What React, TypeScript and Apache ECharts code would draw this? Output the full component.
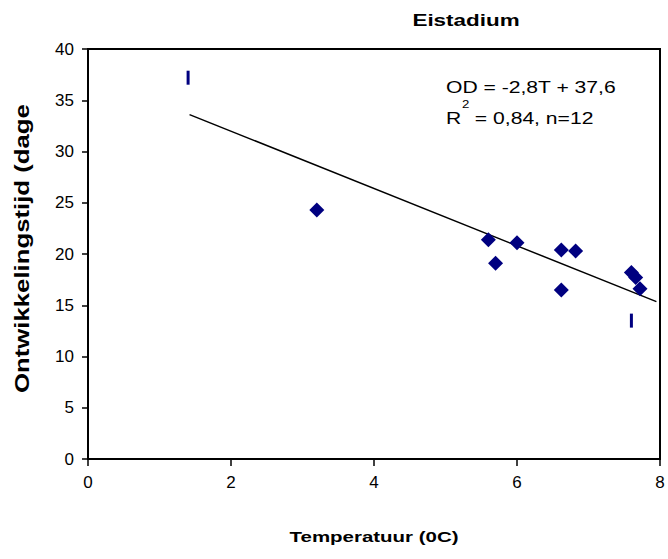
import React, { useEffect, useRef } from "react";
import * as echarts from "echarts";

const diamondX = [3.2, 5.6, 5.7, 6.0, 6.62, 6.62, 6.82, 7.6, 7.66, 7.72];
const diamondY = [24.3, 21.4, 19.1, 21.1, 20.4, 16.5, 20.3, 18.2, 17.7, 16.6];
const barX = [1.4, 7.6];
const barY = [37.2, 13.5];
const trendX = [1.42, 7.95];
const trendY = [33.6, 15.35];
const xTicks = [0, 2, 4, 6, 8];
const yTicks = [0, 5, 10, 15, 20, 25, 30, 35, 40];

const FONT = "Liberation Sans, Arial, sans-serif";
const NAVY = "#000080";
const STRETCH = 1.32;
const GRID = { left: 88, top: 49, width: 572, height: 410 };

export default function App() {
  const ref = useRef<HTMLDivElement>(null);
  useEffect(() => {
    if (!ref.current) return;
    const chart = echarts.init(ref.current, null, { renderer: "svg" });
    const frameLine = { show: true, onZero: false, lineStyle: { color: "#000", width: 1.5 } };
    chart.setOption({
      animation: false,
      backgroundColor: "#ffffff",
      grid: {
        ...GRID,
        containLabel: false,
        show: true,
        backgroundColor: "rgba(0,0,0,0)",
        borderColor: "#000000",
        borderWidth: 2,
      },
      xAxis: [
        {
          type: "value",
          min: xTicks[0],
          max: xTicks[xTicks.length - 1],
          interval: 2,
          axisLine: frameLine,
          axisTick: { show: true, inside: false, length: 7, lineStyle: { color: "#000", width: 1.5 } },
          axisLabel: { margin: 15, fontFamily: FONT, fontSize: 17, color: "#000" },
          splitLine: { show: false },
        },
        {
          type: "value",
          position: "top",
          min: xTicks[0],
          max: xTicks[xTicks.length - 1],
          interval: 2,
          axisLine: { show: true, onZero: false, lineStyle: { color: "#000", width: 2 } },
          axisTick: { show: false },
          axisLabel: { show: false },
          splitLine: { show: false },
        },
      ],
      yAxis: [
        {
          type: "value",
          min: yTicks[0],
          max: yTicks[yTicks.length - 1],
          interval: 5,
          axisLine: frameLine,
          axisTick: { show: true, inside: false, length: 6, lineStyle: { color: "#000", width: 1.5 } },
          axisLabel: { margin: 14, fontFamily: FONT, fontSize: 17, color: "#000" },
          splitLine: { show: false },
        },
        {
          type: "value",
          position: "right",
          min: yTicks[0],
          max: yTicks[yTicks.length - 1],
          interval: 5,
          axisLine: { show: true, onZero: false, lineStyle: { color: "#000", width: 2 } },
          axisTick: { show: false },
          axisLabel: { show: false },
          splitLine: { show: false },
        },
      ],
      graphic: [
        {
          type: "line",
          z: 100,
          silent: true,
          shape: { x1: GRID.left, y1: GRID.top, x2: GRID.left + GRID.width, y2: GRID.top },
          style: { stroke: "#000000", lineWidth: 2 },
        },
        {
          type: "line",
          z: 100,
          silent: true,
          shape: { x1: GRID.left + GRID.width, y1: GRID.top, x2: GRID.left + GRID.width, y2: GRID.top + GRID.height },
          style: { stroke: "#000000", lineWidth: 2 },
        },
        {
          type: "text",
          x: 466,
          y: 20,
          scaleX: STRETCH,
          style: {
            text: "Eistadium",
            fontFamily: FONT,
            fontWeight: "bold",
            fontSize: 17,
            fill: "#000",
            align: "center",
            verticalAlign: "middle",
          },
        },
        {
          type: "text",
          x: 374,
          y: 537,
          scaleX: STRETCH,
          style: {
            text: "Temperatuur (0C)",
            fontFamily: FONT,
            fontWeight: "bold",
            fontSize: 15.5,
            fill: "#000",
            align: "center",
            verticalAlign: "middle",
          },
        },
        {
          type: "text",
          x: 22,
          y: 393,
          rotation: Math.PI / 2,
          scaleX: STRETCH,
          style: {
            text: "Ontwikkelingstijd (dage",
            fontFamily: FONT,
            fontWeight: "bold",
            fontSize: 19.5,
            fill: "#000",
            align: "left",
            verticalAlign: "middle",
          },
        },
        {
          type: "text",
          x: 446,
          y: 87,
          scaleX: STRETCH,
          style: { text: "OD = -2,8T + 37,6", fontFamily: FONT, fontSize: 16, fill: "#000", verticalAlign: "middle" },
        },
        {
          type: "text",
          x: 446,
          y: 118,
          scaleX: STRETCH,
          style: { text: "R", fontFamily: FONT, fontSize: 16, fill: "#000", verticalAlign: "middle" },
        },
        {
          type: "text",
          x: 462,
          y: 104,
          scaleX: STRETCH,
          style: { text: "2", fontFamily: FONT, fontSize: 10, fill: "#000", verticalAlign: "middle" },
        },
        {
          type: "text",
          x: 469,
          y: 118,
          scaleX: STRETCH,
          style: { text: " = 0,84, n=12", fontFamily: FONT, fontSize: 16, fill: "#000", verticalAlign: "middle" },
        },
      ],
      series: [
        {
          type: "line",
          data: trendX.map((x, i) => [x, trendY[i]]),
          showSymbol: false,
          symbol: "none",
          lineStyle: { color: "#000", width: 1.5 },
          z: 3,
        },
        {
          type: "scatter",
          data: diamondX.map((x, i) => [x, diamondY[i]]),
          symbol: "diamond",
          symbolSize: 15,
          itemStyle: { color: NAVY, opacity: 1 },
          z: 4,
        },
        {
          type: "scatter",
          data: barX.map((x, i) => [x, barY[i]]),
          symbol: "rect",
          symbolSize: [3, 14],
          itemStyle: { color: NAVY, opacity: 1 },
          z: 4,
        },
      ],
    });
    return () => chart.dispose();
  }, []);
  return <div ref={ref} style={{ width: 668, height: 559, position: "absolute", left: 0, top: 0 }} />;
}
